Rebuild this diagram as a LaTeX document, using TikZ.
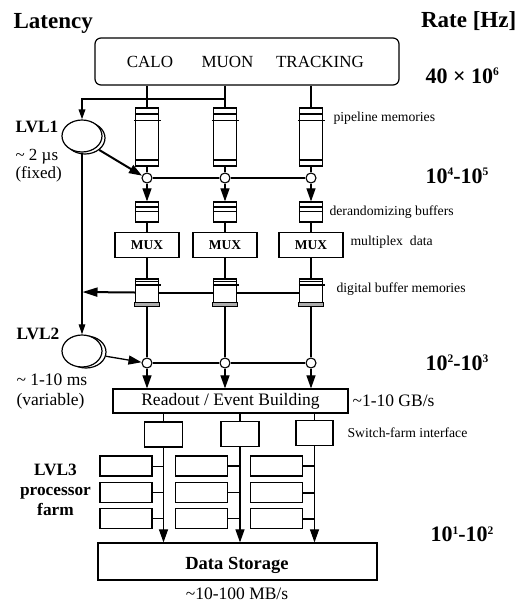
\documentclass[tikz,border=0pt]{standalone}
\usepackage{fontspec}
\setmainfont{Liberation Serif}
\usetikzlibrary{arrows.meta,shapes.geometric}
\newcommand{\fs}[1]{\fontsize{#1}{#1}\selectfont}
\newcommand{\supx}[1]{\raisebox{7.5pt}{\fs{11.5}#1}}
\begin{document}
\begin{tikzpicture}[x=1pt,y=-1pt,line width=1.1pt,
  box/.style={draw, fill=white, inner sep=0pt, line width=1.2pt},
  lbl/.style={inner sep=0pt, anchor=base west, font=\fs{13.7}},
  mid/.style={inner sep=0pt, anchor=base west, font=\fs{17.5}},
  ttl/.style={inner sep=0pt, anchor=base west, font=\fs{23}\bfseries},
  rate/.style={inner sep=0pt, anchor=base west, font=\fs{22}\bfseries},
  lvl/.style={inner sep=0pt, anchor=base, font=\fs{17.3}\bfseries},
  bigarr/.style={-{Triangle[length=13pt,width=9pt]}},
  smallarr/.style={-{Triangle[length=10pt,width=6.5pt]}},
  jn/.style={draw, circle, fill=white, minimum size=10pt, inner sep=0pt, line width=1.1pt},
  trig/.style={draw, ellipse, fill=white, inner sep=0pt, line width=1.2pt, minimum width=40pt, minimum height=32pt},
  membox/.style={box, minimum width=23pt},
  proc/.style={box, minimum width=52pt, minimum height=20pt},
  sfi/.style={box, minimum width=38pt, minimum height=25pt}]
\useasboundingbox (0,0) rectangle (517,603);

% titles
\node[ttl] (latency) at (13,28.5) {Latency};
\node[ttl] (rateh) at (420.5,27) {Rate [Hz]};

% top detector box
\node[box, rounded corners=6pt, minimum width=304pt, minimum height=47pt] (top) at (247,61.5) {};
\node[inner sep=0pt, anchor=base, font=\fs{17}] (calo) at (150,67) {CALO};
\node[inner sep=0pt, anchor=base, font=\fs{17}] (muon) at (227.5,67) {MUON};
\node[inner sep=0pt, anchor=base, font=\fs{17}] (trk) at (320,67) {TRACKING};

% rates
\node[rate] (r1) at (425,83) {40 × 10\supx{6}};
\node[rate] (r2) at (425,183) {10\supx{4}-10\supx{5}};
\node[rate] (r3) at (425,370) {10\supx{2}-10\supx{3}};
\node[rate] (r4) at (430,541.5) {10\supx{1}-10\supx{2}};

% columns
\foreach \i/\x in {1/147,2/225,3/311}{
  \node[membox, minimum height=58pt] (p\i) at (\x,137) {};
  \draw[line width=2pt] ([yshift=-7pt]p\i.north west) -- ([yshift=-7pt]p\i.north east);
  \draw[line width=2pt] ([yshift=7pt]p\i.south west) -- ([yshift=7pt]p\i.south east);
  \draw[line width=0.8pt] ([xshift=-1pt,yshift=-13pt]p\i.north west) -- ([xshift=2pt,yshift=-13pt]p\i.north east);
  \draw (p\i.north |- top.south) -- (p\i.north);
  \node[jn] (j\i) at (\x,178) {};
  \draw (p\i.south) -- (j\i.north);
  \node[membox, minimum height=20pt] (d\i) at (\x,212) {};
  \draw[line width=1.6pt] ([yshift=-5.5pt]d\i.north west) -- ([yshift=-5.5pt]d\i.north east);
  \draw[line width=1.6pt] ([yshift=-10pt]d\i.north west) -- ([yshift=-10pt]d\i.north east);
  \draw[bigarr] (j\i.south) -- (d\i.north);
  \node[box, minimum width=64pt, minimum height=25pt, font=\fs{13.5}\bfseries] (m\i) at (\x,245) {MUX};
  \draw (d\i.south) -- (m\i.north);
  \node[membox, minimum height=27pt] (b\i) at (\x,292.5) {};
  \draw[line width=0.8pt] ([yshift=-3pt]b\i.north west) -- ([yshift=-3pt]b\i.north east);
  \draw[line width=1.6pt] ([yshift=-6.5pt]b\i.north west) -- ([yshift=-6.5pt,xshift=2pt]b\i.north east);
  \draw[fill=gray!65, line width=1pt] ([yshift=4pt]b\i.south west) rectangle (b\i.south east);
  \draw (m\i.south) -- (b\i.north);
  \node[jn] (k\i) at (\x,363) {};
  \draw (b\i.south) -- (k\i.north);
}
\draw[line width=2pt] (j1.east) -- (j2.west) (j2.east) -- (j3.west);
\draw[line width=1.3pt] (k1.east) -- (k2.west) (k2.east) -- (k3.west);

% labels right of columns
\node[lbl] (lpipe) at (333,121) {pipeline memories};
\node[lbl] (lder) at (329,215.7) {derandomizing buffers};
\node[lbl] (lmux) at (350,245) {multiplex\ \ data};
\node[lbl] (ldig) at (336,292) {digital buffer memories};

% LVL1
\node[trig] (l1s) at (85,138) {};
\node[trig] (l1) at (82,136) {};
\node[lvl, anchor=base west] (t1) at (15,132) {LVL1};
\node[inner sep=0pt, anchor=base west, font=\fs{17}] (t1a) at (15,160) {\textasciitilde{} 2 µs};
\node[inner sep=0pt, anchor=base west, font=\fs{17}] (t1b) at (15,178) {(fixed)};
\coordinate (fb) at (p2.north |- 0,99);
\draw[line width=1.8pt, smallarr] (fb) -| (l1.north);
\draw[line width=2pt, bigarr] (l1s.-40) -- (j1.155);

% LVL2
\node[trig] (l2s) at (86,352) {};
\node[trig] (l2) at (82,351) {};
\node[lvl, anchor=base west] (t2) at (16,339) {LVL2};
\node[inner sep=0pt, anchor=base west, font=\fs{17.5}] (t2a) at (16,385.5) {\textasciitilde{} 1-10 ms};
\node[inner sep=0pt, anchor=base west, font=\fs{17.5}] (t2b) at (16,405) {(variable)};
\draw[smallarr] (l1.south) -- (l2.north);
\draw[line width=1.3pt, bigarr] (l2s.-12) -- (k1.172);

% digital buffer feedback arrow
\coordinate (fbl) at (82.5,292);
\draw[line width=2pt] (b3.west) -- (b2.east) (b2.west) -- (b1.east);
\draw[line width=2pt, -{Triangle[length=15pt,width=9pt]}] (b1.west) -- (fbl);

% readout
\node[box, minimum width=235pt, minimum height=24pt, font=\fs{17.5}] (ro) at (230.5,401) {Readout / Event Building};
\foreach \i in {1,2,3}{ \draw[bigarr] (k\i.south) -- (k\i.south |- ro.north); }
\node[mid] (gbs) at (352,406.7) {\textasciitilde1-10 GB/s};

% switch-farm interface
\node[sfi] (s1) at (163.5,434.5) {};
\node[sfi] (s2) at (240,434) {};
\node[sfi, minimum width=37pt] (s3) at (314.5,433) {};
\node[lbl] (lsfi) at (347,437) {Switch-farm interface};

% data storage
\node[box, minimum width=279pt, minimum height=37pt] (ds) at (237.5,561.5) {};
\node[inner sep=0pt, anchor=base, font=\fs{18.5}\bfseries] (dst) at (237,569) {Data Storage};
\node[inner sep=0pt, anchor=base, font=\fs{17.5}] (mbs) at (237,599) {\textasciitilde10-100 MB/s};

\foreach \i/\px/\lw in {1/126/1pt,2/201.5/1.3pt,3/276.5/2pt}{
  \draw (s\i.north |- ro.south) -- (s\i.north);
  \draw[bigarr] (s\i.south) -- (s\i.south |- ds.north);
  \foreach \r/\ry in {a/466,b/492.5,c/518.5}{
    \node[proc] (q\i\r) at (\px,\ry) {};
    \draw[line width=\lw] (q\i\r.east) -- (q\i\r.east -| s\i.south);
  }
}

% LVL3 label
\node[lvl] (t3a) at (55.5,475) {LVL3};
\node[lvl] (t3b) at (55.5,495) {processor};
\node[lvl] (t3c) at (55.5,515) {farm};
\end{tikzpicture}
\end{document}
